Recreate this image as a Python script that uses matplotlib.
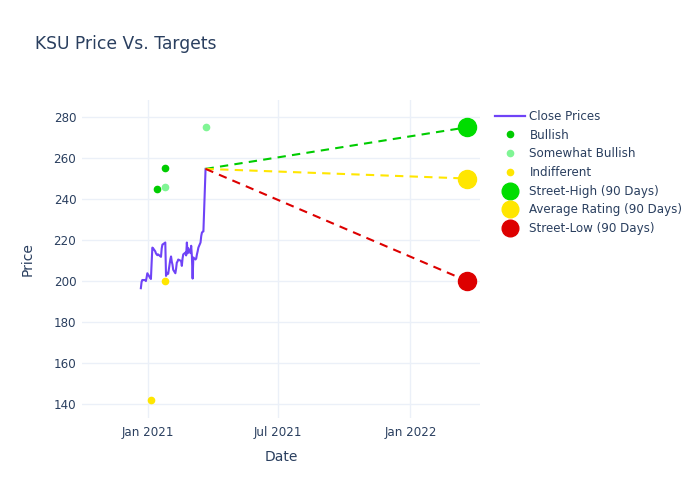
import pandas as pd
import matplotlib.pyplot as plt
import matplotlib.dates as mdates
from matplotlib.lines import Line2D

plt.rcParams['font.family'] = ['DejaVu Sans']

# close prices
close_dates = ["2020-12-22", "2020-12-23", "2020-12-24", "2020-12-28", "2020-12-29", "2020-12-30",
               "2020-12-31", "2021-01-04", "2021-01-05", "2021-01-06", "2021-01-07", "2021-01-08",
               "2021-01-11", "2021-01-12", "2021-01-13", "2021-01-14", "2021-01-15", "2021-01-19",
               "2021-01-20", "2021-01-21", "2021-01-22", "2021-01-25", "2021-01-26", "2021-01-27",
               "2021-01-28", "2021-01-29", "2021-02-01", "2021-02-02", "2021-02-03", "2021-02-04",
               "2021-02-05", "2021-02-08", "2021-02-09", "2021-02-10", "2021-02-11", "2021-02-12",
               "2021-02-16", "2021-02-17", "2021-02-18", "2021-02-19", "2021-02-22", "2021-02-23",
               "2021-02-24", "2021-02-25", "2021-02-26", "2021-03-01", "2021-03-02", "2021-03-03",
               "2021-03-04", "2021-03-05", "2021-03-08", "2021-03-09", "2021-03-10", "2021-03-11",
               "2021-03-12", "2021-03-15", "2021-03-16", "2021-03-17", "2021-03-18", "2021-03-19",
               "2021-03-22"]
close_prices = [196.5, 199.5, 200.5, 200.5, 200.0, 201.7,
                203.8, 201.5, 201.0, 209.0, 216.3, 216.0,
                214.5, 213.5, 213.0, 212.6, 213.0, 211.8,
                215.9, 217.8, 218.0, 218.8, 202.5, 203.5,
                204.0, 203.5, 210.6, 212.0, 209.5, 208.0,
                205.5, 203.8, 206.0, 209.0, 209.5, 210.5,
                209.8, 207.4, 211.0, 213.0, 213.9, 212.5,
                218.8, 213.5, 216.0, 213.6, 217.2, 212.0,
                201.2, 211.5, 210.5, 211.0, 213.0, 214.5,
                216.3, 218.8, 222.0, 223.7, 224.0, 224.2,
                254.7]

# analyst ratings
bullish_dates = ["2021-01-13", "2021-01-25"]
bullish_prices = [245, 255]
somewhat_dates = ["2021-01-25", "2021-03-22"]
somewhat_prices = [246, 275]
indiff_dates = ["2021-01-25", "2021-01-05"]
indiff_prices = [200, 142]

# 90 day targets
target_date = "2022-03-21"
street_high = 275
avg_rating = 250
street_low = 200

txt = '#2a3f5f'
grid = '#ebf0f8'

cd = pd.to_datetime(close_dates)
fig = plt.figure(figsize=(7, 5), dpi=100)
ax = fig.add_axes([0.117, 0.164, 0.569, 0.636])

ax.plot(cd, close_prices, color='#6f43f7', lw=1.5, zorder=3)

start = cd[-1]
last = close_prices[-1]
td = pd.Timestamp(target_date)
for val, col in [(street_high, '#00cc00'), (avg_rating, '#ffe600'), (street_low, '#dd0000')]:
    ax.plot([start, td], [last, val], color=col, lw=1.5, ls=(0, (4, 3)), zorder=4)

ax.plot(pd.to_datetime(bullish_dates), bullish_prices, 'o', color='#00cc00', ms=4.5, zorder=5)
ax.plot(pd.to_datetime(somewhat_dates), somewhat_prices, 'o', color='#80f595', ms=4.5, zorder=5)
ax.plot(pd.to_datetime(indiff_dates), indiff_prices, 'o', color='#ffe600', ms=4.5, zorder=5)

ax.plot([td], [street_high], 'o', color='#00dd00', ms=13, zorder=6)
ax.plot([td], [avg_rating], 'o', color='#ffe600', ms=13, zorder=6)
ax.plot([td], [street_low], 'o', color='#dd0000', ms=13, zorder=6)

ax.set_xlim(pd.Timestamp("2020-10-01"), pd.Timestamp("2022-04-08"))
ax.set_ylim(133.2, 288.3)
ax.set_yticks([140, 160, 180, 200, 220, 240, 260, 280])
ax.xaxis.set_major_locator(mdates.MonthLocator(bymonth=[1, 7]))
ax.xaxis.set_major_formatter(mdates.DateFormatter('%b %Y'))

for s in ax.spines.values():
    s.set_visible(False)
ax.grid(True, color=grid, lw=1)
ax.set_axisbelow(True)
ax.tick_params(length=0, labelsize=8.6, labelcolor=txt)
ax.tick_params(axis='y', pad=4)
ax.tick_params(axis='x', pad=6)
ax.set_xlabel('Date', fontsize=10, color=txt, labelpad=8)
ax.set_ylabel('Price', fontsize=10, color=txt, labelpad=14)

fig.text(0.05, 0.912, 'KSU Price Vs. Targets', fontsize=12.3, color=txt, va='center')

handles = [
    Line2D([], [], color='#6f43f7', lw=1.6),
    Line2D([], [], marker='o', ls='', color='#00cc00', ms=4.5),
    Line2D([], [], marker='o', ls='', color='#80f595', ms=4.5),
    Line2D([], [], marker='o', ls='', color='#ffe600', ms=4.5),
    Line2D([], [], marker='o', ls='', color='#00dd00', ms=12),
    Line2D([], [], marker='o', ls='', color='#ffe600', ms=12),
    Line2D([], [], marker='o', ls='', color='#dd0000', ms=12),
]
labels = ['Close Prices', 'Bullish', 'Somewhat Bullish', 'Indifferent',
          'Street-High (90 Days)', 'Average Rating (90 Days)', 'Street-Low (90 Days)']
leg = fig.legend(handles, labels, loc='upper left', bbox_to_anchor=(0.700, 0.79),
                 frameon=False, fontsize=8.6, labelcolor=txt, handlelength=2.5,
                 handletextpad=0.4, labelspacing=0.48, borderaxespad=0)

fig.savefig('out.png', dpi=100)
